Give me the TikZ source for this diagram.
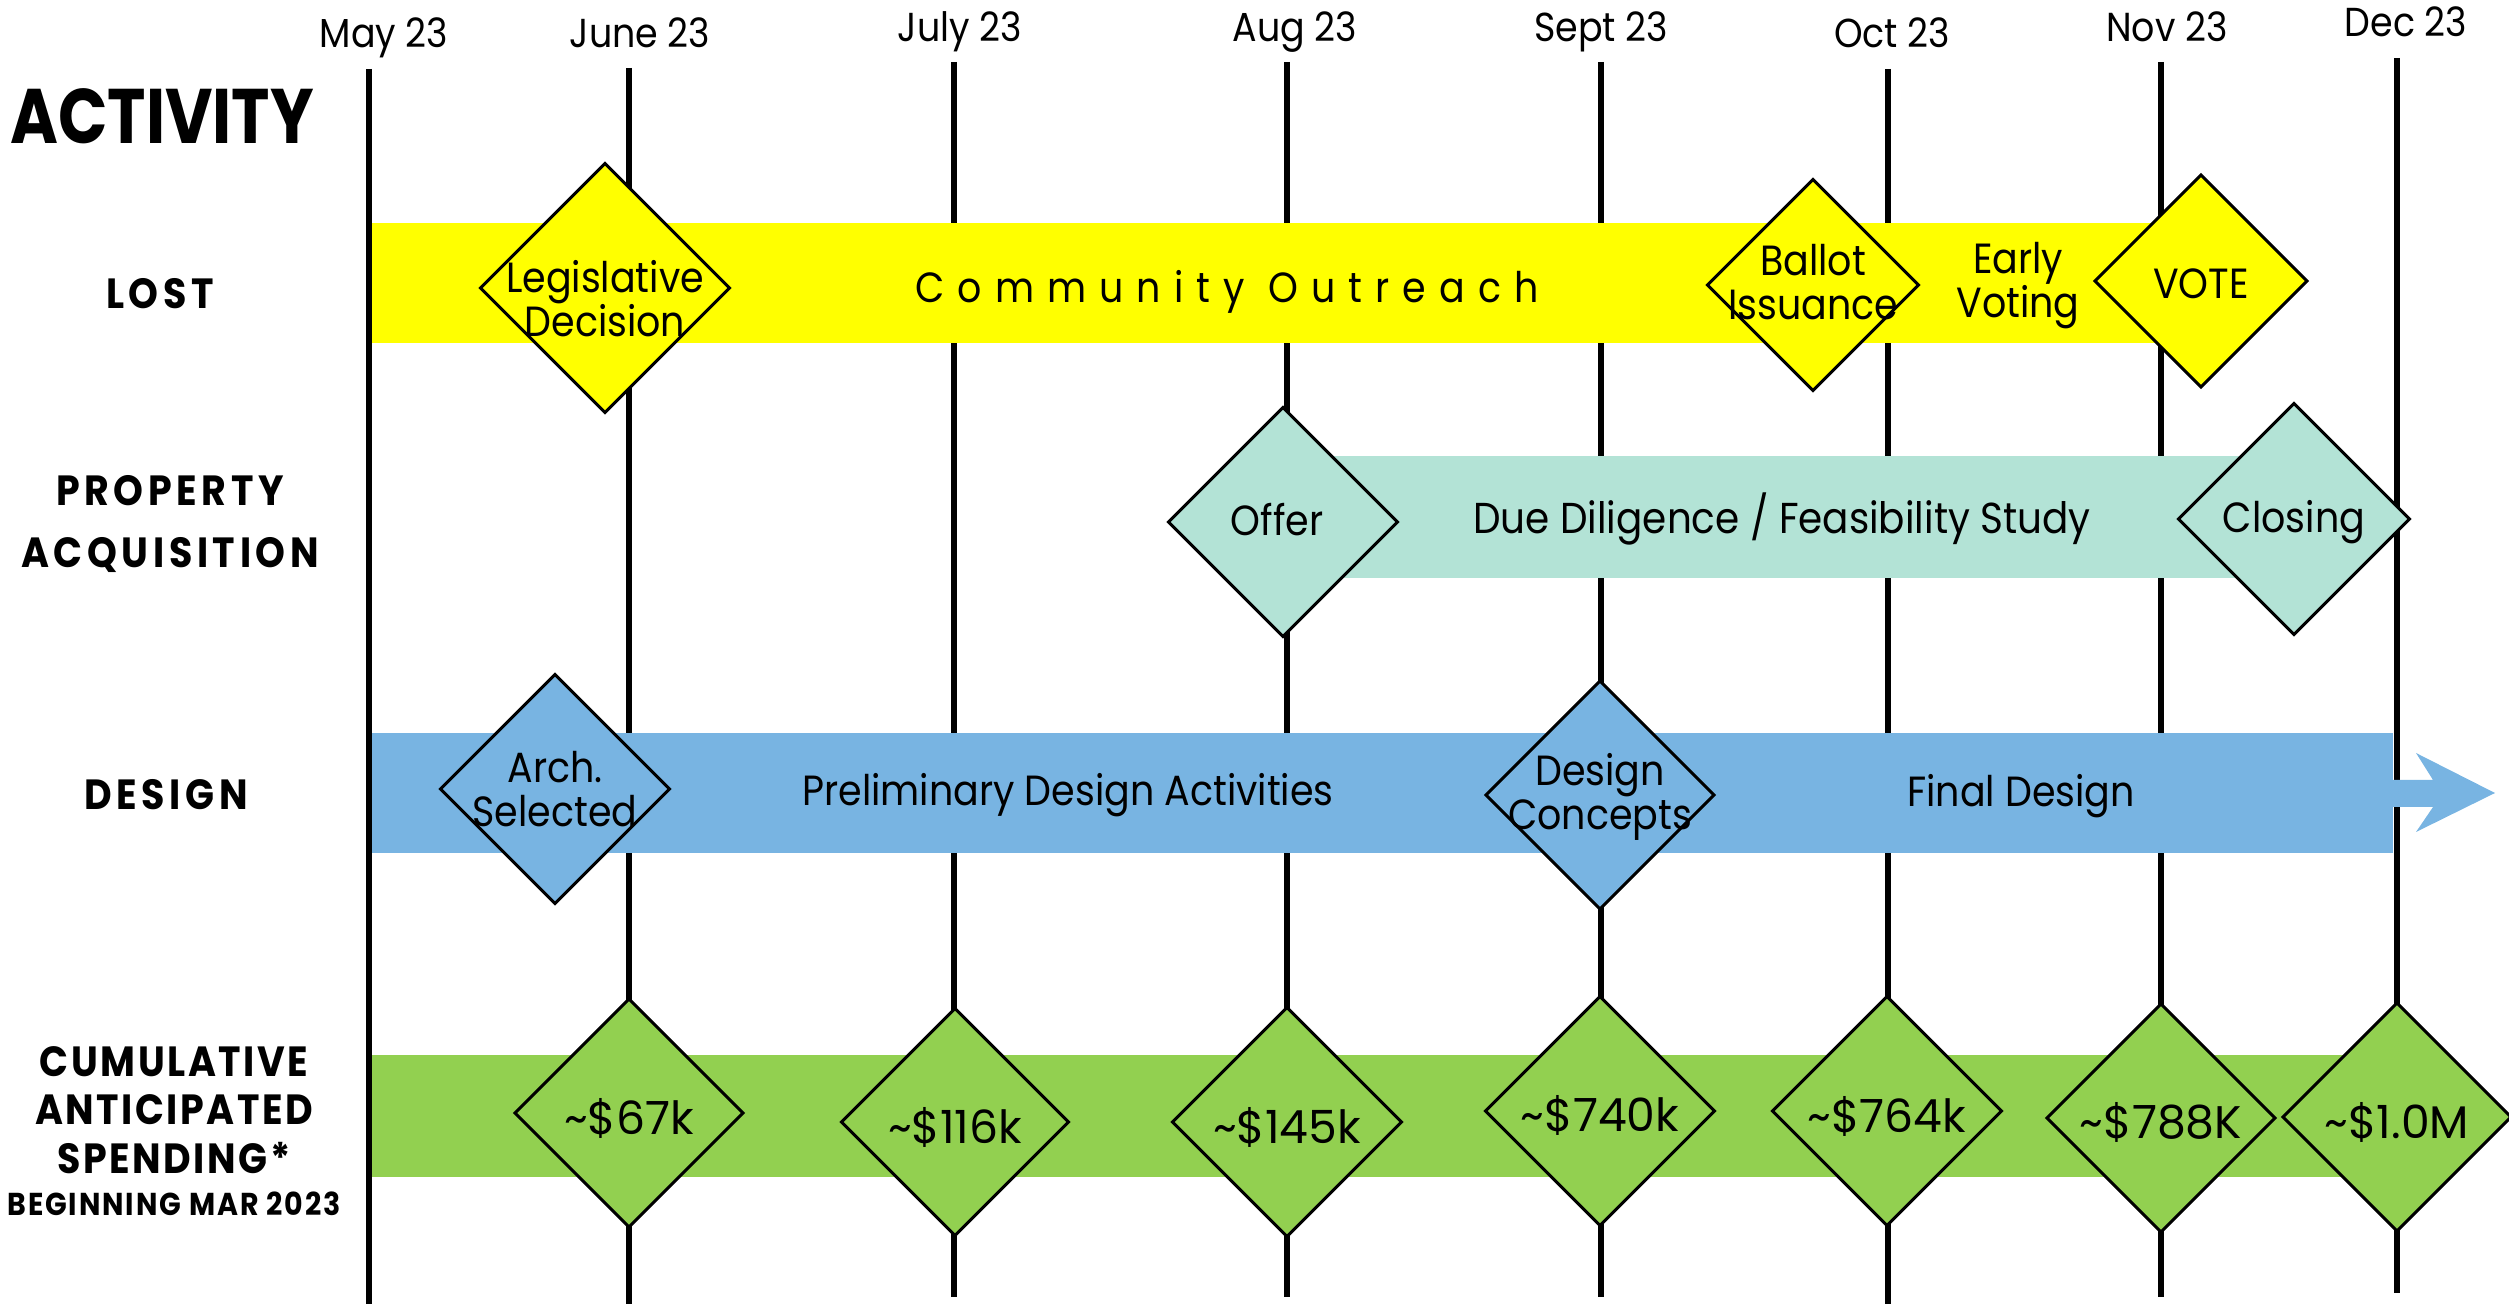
\documentclass[tikz,border=0pt]{standalone}
\usepackage{fontspec}
\setmainfont{Poppins}[FakeStretch=0.9]
\newfontfamily\condfont{Poppins}[FakeStretch=0.84]
\newfontfamily\numfont{Poppins}
\usetikzlibrary{shapes.geometric}
\definecolor{lostyellow}{RGB}{255,255,0}
\definecolor{acqteal}{RGB}{179,227,214}
\definecolor{designblue}{RGB}{120,180,226}
\definecolor{spendgreen}{RGB}{146,208,80}
\begin{document}
\begin{tikzpicture}[x=0.01cm, y=-0.01cm, line width=1.8pt,
    font=\fontsize{12}{12.5}\selectfont,
    month/.style={font=\fontsize{11.5}{12}\selectfont, anchor=base},
    rowlabel/.style={font=\bfseries\fontsize{12}{17.6}\selectfont\addfontfeature{LetterSpace=11}, align=center},
    mile/.style={diamond, draw=black, line width=0.85pt, fill=#1, inner sep=0pt},
    cost/.style={font=\numfont\fontsize{13}{13}\selectfont}]
    \useasboundingbox (0,0) rectangle (2509,1304);
    \draw (369,69) -- (369,1304);
    \draw (629,68) -- (629,1304);
    \draw (954,62) -- (954,1297);
    \draw (1287,62) -- (1287,1297);
    \draw (1601,62) -- (1601,1297);
    \draw (1888,69) -- (1888,1304);
    \draw (2161,62) -- (2161,1297);
    \draw (2397,58) -- (2397,1293);
    \node[month] (may) at (384,48) {May 23};
    \node[month] (june) at (640,48) {June 23};
    \node[month] (july) at (960,42) {July 23};
    \node[month] (aug) at (1295,42) {Aug 23};
    \node[month] (sept) at (1601,42) {Sept 23};
    \node[month] (oct) at (1892,48) {Oct 23};
    \node[month] (nov) at (2167,42) {Nov 23};
    \node[month] (dec) at (2406,37) {Dec 23};
    \node[font=\condfont\bfseries\fontsize{22}{22}\selectfont] (activity) at (162,116) {ACTIVITY};
    \node[rowlabel] (lost) at (160,294) {LOST};
    \node[rowlabel] (property) at (170,524) {PROPERTY\\ACQUISITION};
    \node[rowlabel] (design) at (166,795) {DESIGN};
    \node[rowlabel, font=\bfseries\fontsize{12}{13.8}\selectfont\addfontfeature{LetterSpace=6}] (spending) at (174,1110) {CUMULATIVE\\ANTICIPATED\\SPENDING*};
    \node[font=\bfseries\fontsize{9}{9}\selectfont\addfontfeature{LetterSpace=6}] (since) at (174,1204) {BEGINNING MAR 2023};
    \fill[lostyellow] (372,223) rectangle (2161,343);
    \fill[acqteal] (1283,456) rectangle (2294,578);
    \fill[designblue] (372,733) rectangle (2393,853);
    \fill[spendgreen] (372,1055) rectangle (2397,1177);
    \fill[designblue] (2393,780) -- (2433,780) -- (2416,753) -- (2495,793) -- (2416,832) -- (2433,807) -- (2393,807) -- cycle;
    \node (outreach) at (1227,292) {\addfontfeature{LetterSpace=31}Community Outreach};
    \node[align=center] (early) at (2018,286) {Early\\Voting};
    \node[font=\fontsize{12.3}{12.5}\selectfont] (diligence) at (1782,519) {Due Diligence / Feasibility Study};
    \node (prelim) at (1068,795) {Preliminary Design Activities};
    \node (final) at (2021,796) {Final Design};
    \node[mile=lostyellow, minimum size=2.5cm] (legis) at (605,288) {};
    \node[mile=lostyellow, minimum size=2.12cm] (ballot) at (1813,285) {};
    \node[mile=lostyellow, minimum size=2.13cm] (vote) at (2201,281) {};
    \node[mile=acqteal, minimum size=2.3cm] (offer) at (1283,522) {};
    \node[mile=acqteal, minimum size=2.32cm] (closing) at (2294,519) {};
    \node[mile=designblue, minimum size=2.3cm] (arch) at (555,789) {};
    \node[mile=designblue, minimum size=2.29cm] (concepts) at (1600,795) {};
    \node[mile=spendgreen, minimum size=2.29cm] (s67) at (629,1113) {};
    \node[mile=spendgreen, minimum size=2.28cm] (s116) at (955,1122) {};
    \node[mile=spendgreen, minimum size=2.3cm] (s145) at (1287,1122) {};
    \node[mile=spendgreen, minimum size=2.3cm] (s740) at (1600,1111) {};
    \node[mile=spendgreen, minimum size=2.3cm] (s764) at (1887,1111) {};
    \node[mile=spendgreen, minimum size=2.29cm] (s788) at (2161,1118) {};
    \node[mile=spendgreen, minimum size=2.29cm] (s1m) at (2397,1117) {};
    \node[align=center] (legis-t) at (605,299) {Legislative\\Decision};
    \node[align=center] (ballot-t) at (1813,282) {Ballot\\Issuance};
    \node (vote-t) at (2201,284) {VOTE};
    \node (offer-t) at (1277,520) {Offer};
    \node (closing-t) at (2294,522) {Closing};
    \node[align=center] (arch-t) at (555,789) {Arch.\\Selected};
    \node[align=center] (concepts-t) at (1600,797) {Design\\Concepts};
    \node[cost] (s67-t) at (629,1118) {\textasciitilde\$67k};
    \node[cost] (s116-t) at (955,1127) {\textasciitilde\$116k};
    \node[cost] (s145-t) at (1287,1127) {\textasciitilde\$145k};
    \node[cost] (s740-t) at (1600,1115) {\textasciitilde\$740k};
    \node[cost] (s764-t) at (1887,1116) {\textasciitilde\$764k};
    \node[cost] (s788-t) at (2161,1122) {\textasciitilde\$788K};
    \node[cost] (s1m-t) at (2397,1122) {\textasciitilde\$1.0M};
\end{tikzpicture}
\end{document}
